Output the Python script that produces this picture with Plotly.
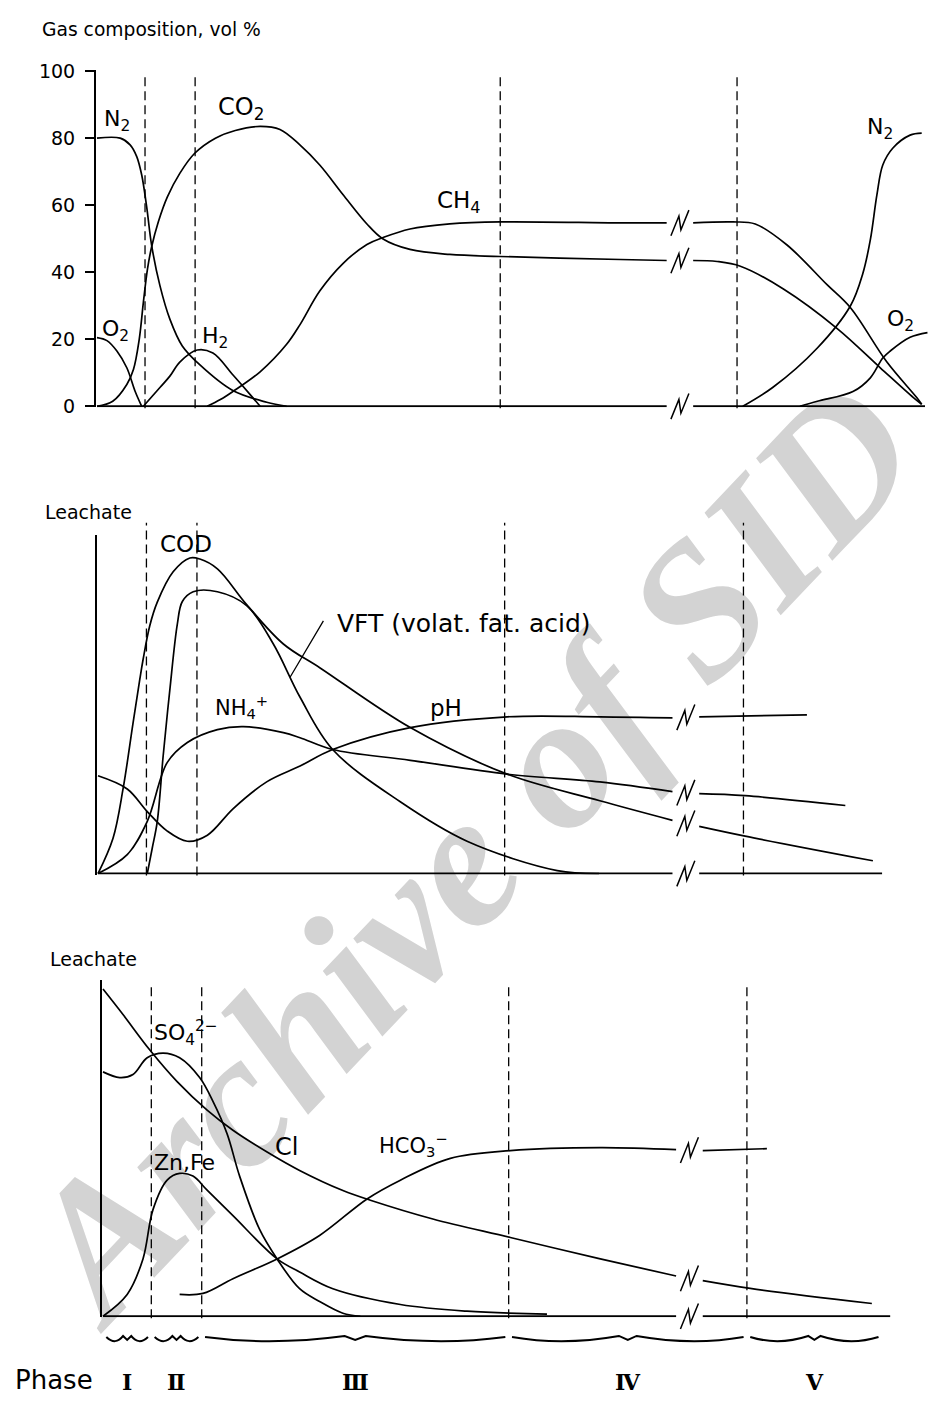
import numpy as np
import plotly.graph_objects as go

W, H = 928, 1412

# Relative time (arbitrary units) shared by the three panels
phase_edges = [0.0, 5.8, 11.85, 48.7, 77.3, 93.5]
phase_names = ["Ⅰ", "Ⅱ", "Ⅲ", "Ⅳ", "Ⅴ"]
t_break = 70.4      # time axis is broken here (//)
gap = 1.6           # half width of the break gap

# ---------------- Gas composition, vol % ----------------
n2_early_t = [0, 2.8, 4.0, 4.8, 5.4, 6.0, 6.6, 7.6, 8.8, 10.3, 12.4, 16.4, 20.5, 22.9]
n2_early = [80, 80, 78, 74.5, 69, 59.5, 48, 36, 26, 18, 12.4, 4.7, 1.2, 0]

o2_early_t = [0, 1.2, 2.4, 3.6, 4.6, 5.4]
o2_early = [20.5, 19.6, 16.5, 11.5, 4.5, 0]

co2_t = [0, 1.9, 3.6, 4.4, 5.1, 5.6, 6.1, 6.6, 7.4, 8.5, 10.0, 11.8, 14.3, 16.7, 19.7, 22.1,
         24.5, 26.9, 29.7, 32.6, 34.5, 37.8, 42.6, 48.7, 63.2, 68.8, 72.0, 74.9, 77.7, 82.9,
         89.4, 94.6, 98.6, 99.6]
co2 = [0, 1.5, 6.5, 11, 20, 31, 41, 47.6, 55, 62.5, 69.5, 75.5, 80, 82.3, 83.5, 82.6,
       78, 72, 63.2, 54.4, 50, 46.8, 45.3, 44.7, 43.8, 43.5, 43.5, 43.2, 41.8, 35,
       23.2, 11.5, 2.6, 0.6]

ch4_t = [13.3, 14.9, 16.4, 19.7, 22.9, 24.5, 26.9, 29.7, 32.6, 34.5, 37.8, 42.6, 48.7, 63.2,
         68.8, 72.0, 76.8, 79.5, 83.3, 88.2, 91.0, 95.4, 99.0, 99.6]
ch4 = [0, 2, 4.4, 10.3, 18.5, 24.3, 34.4, 42.6, 48.3, 50.3, 52.9, 54.4, 55, 54.7,
       54.7, 54.7, 55, 54.4, 48.2, 36.2, 29.4, 13.2, 2.6, 0.6]

h2_t = [5.6, 7.6, 8.8, 10.0, 12.1, 14.0, 16.4, 18.5, 19.7]
h2 = [0, 5.6, 9, 13.2, 16.8, 15.9, 9.4, 3.5, 0]

n2_late_t = [78.0, 81.6, 87.0, 91.0, 92.5, 93.4, 94.2, 94.9, 96.1, 98.2, 99.6]
n2_late = [0, 5.6, 17.4, 30, 39.7, 49.7, 63.2, 72, 77, 80.9, 81.5]

o2_late_t = [84.9, 87.0, 91.3, 93.4, 94.9, 95.8, 98.2, 100.3]
o2_late = [0, 1.5, 4.4, 8.5, 14.4, 16.5, 20.6, 22]

gas_ticks = [0, 20, 40, 60, 80, 100]

# ---------------- Leachate: organic parameters ----------------
cod_t = [0, 1.8, 3.0, 4.2, 5.0, 5.4, 6.2, 7.1, 9.0, 11.0, 12.2, 14.3, 17.8, 22.2, 26.6, 37.4,
         49.0, 60.1, 68.8, 72.0, 77.5, 92.8]
cod = [0, 10.5, 25.1, 44.7, 57.5, 63.5, 73.5, 80.5, 89.5, 93.6, 93.3, 90.4, 79.8, 68.1, 61, 43.3,
       29.5, 21.6, 15.8, 14.0, 11.1, 3.8]

vft_t = [5.9, 6.5, 7.1, 7.8, 8.6, 9.5, 10.1, 11.4, 14.3, 17.8, 21.0, 24.2, 28.1, 36.2, 44.2,
         55.0, 60.0]
vft = [0, 7.6, 15.5, 34.8, 54.4, 74, 80.7, 83.6, 83.6, 79.5, 68.1, 52.3, 36.8, 21.3, 9.6,
       0.9, 0]

ph_t = [0, 3.5, 5.9, 8.3, 10.7, 13.1, 16.2, 20.2, 24.2, 28.1, 37.4, 49.0, 60.1, 68.8, 72.0, 84.9]
ph = [29, 25.1, 18.4, 12.6, 9.6, 11.4, 19.3, 27.2, 31.9, 36.8, 43.3, 46.5, 46.5, 46.2, 46.5, 47.1]

nh4_t = [0, 3.5, 5.9, 8.3, 10.7, 14.3, 17.4, 22.2, 24.2, 28.1, 37.4, 49.0, 60.1, 68.8, 72.0,
         77.5, 89.5]
nh4 = [0, 5.6, 15.5, 33, 38.9, 42.7, 43.6, 41.8, 40.3, 36.8, 33.6, 29.5, 27.2, 24.3, 23.7,
       23.1, 20.2]

# ---------------- Leachate: inorganic parameters ----------------
cl_t = [0, 2.4, 5.6, 8.9, 12.5, 15.6, 19.7, 23.6, 28.8, 32.1, 39.6, 48.9, 59.7, 68.8, 72.0,
        77.7, 92.3]
cl = [97.6, 90, 79.5, 70, 61.5, 55.5, 49, 43.5, 37.5, 34.6, 29, 23.5, 17.1, 12, 10.6,
      8.3, 3.8]

so4_t = [0, 2.0, 3.6, 5.3, 7.2, 9.2, 11.6, 13.2, 14.9, 16.4, 18.8, 20.9, 23.6, 26.0, 28.8, 30.9]
so4 = [72.9, 71.2, 72.1, 77.1, 78.5, 77.1, 71.2, 64.1, 54.4, 41.8, 25.9, 17.1, 8.2, 4.4, 0.9, 0]

znfe_t = [0, 2.9, 4.8, 6.0, 7.7, 9.2, 10.8, 12.5, 15.6, 20.9, 23.6, 27.6, 35.7, 43.7, 53.3]
znfe = [0, 6.5, 17.1, 31.8, 40.6, 42.6, 41.8, 37.6, 30, 17.1, 13.2, 8.2, 3.5, 1.5, 0.6]

hco3_t = [9.2, 12.0, 15.6, 20.9, 26.0, 31.7, 35.7, 41.7, 48.9, 59.7, 68.8, 72.0, 79.7]
hco3 = [6.5, 6.8, 11.2, 17.1, 24.1, 35, 40.6, 47.1, 49.4, 50.3, 49.7, 49.4, 50]

# ---------------- panel geometry (pixels) ----------------
GEOM = {
    "gas":   dict(ax="",  x0=97.0,  sx=8.28, y0=402.0,  sy=3.40, tmax=100.36, t_end=100.0),
    "org":   dict(ax="2", x0=98.0,  sx=8.35, y0=876.0,  sy=3.42, tmax=94.2,   t_end=93.9),
    "inorg": dict(ax="3", x0=103.0, sx=8.33, y0=1325.0, sy=3.40, tmax=94.6,   t_end=94.5),
}
T_LO, V_LO, V_HI = -0.12, -0.3, 100.3
FONT = "DejaVu Sans"


def px(key, t, v):
    g = GEOM[key]
    return g["x0"] + t * g["sx"], g["y0"] - v * g["sy"]


def to_paper(x, y):
    return x / W, 1 - y / H


def curve(key, t, v, width=1.7):
    tt, vv = [], []
    for i in range(len(t)):
        if i and t[i - 1] < t_break < t[i]:
            tt.append(None)
            vv.append(None)
        tt.append(t[i])
        vv.append(v[i])
    a = GEOM[key]["ax"]
    return go.Scatter(x=tt, y=vv, xaxis="x" + a, yaxis="y" + a, mode="lines",
                      line=dict(color="black", width=width, shape="spline", smoothing=1.0),
                      hoverinfo="skip", showlegend=False)


def break_mark(key, t, v):
    cx, cy = px(key, t, v)
    offs = [(-9, 13), (-1, -7), (1, 7), (9, -13)]
    pts = [to_paper(cx + dx, cy + dy) for dx, dy in offs]
    path = "M " + " L ".join(f"{x:.5f},{y:.5f}" for x, y in pts)
    return dict(type="path", xref="paper", yref="paper", path=path,
                line=dict(color="black", width=1.5))


series = {
    "gas": [(n2_early_t, n2_early), (o2_early_t, o2_early), (co2_t, co2), (ch4_t, ch4),
            (h2_t, h2), (n2_late_t, n2_late), (o2_late_t, o2_late)],
    "org": [(cod_t, cod), (vft_t, vft), (ph_t, ph), (nh4_t, nh4)],
    "inorg": [(cl_t, cl), (so4_t, so4), (znfe_t, znfe), (hco3_t, hco3)],
}

fig = go.Figure()
shapes = []
layout_axes = {}

for key, g in GEOM.items():
    a = g["ax"]
    xl, yb = px(key, T_LO, V_LO)
    xr, yt = px(key, g["tmax"], V_HI)
    layout_axes["xaxis" + a] = dict(domain=[xl / W, min(1.0, xr / W)], range=[T_LO, g["tmax"]],
                                    anchor="y" + a, visible=False)
    yax = dict(domain=[1 - yb / H, 1 - yt / H], range=[V_LO, V_HI], anchor="x" + a,
               showline=True, linecolor="black", linewidth=2, showgrid=False, zeroline=False,
               fixedrange=True)
    if key == "gas":
        yax.update(tickvals=gas_ticks, ticks="outside", ticklen=9, tickwidth=2,
                   tickcolor="black", tickfont=dict(family=FONT, size=19, color="black"),
                   ticklabelstandoff=6)
    else:
        yax.update(showticklabels=False, ticks="")
    layout_axes["yaxis" + a] = yax

    # curves
    for t, v in series[key]:
        fig.add_trace(curve(key, t, v))
        if t[0] < t_break < t[-1]:
            shapes.append(break_mark(key, t_break, float(np.interp(t_break, t, v))))

    # time axis (baseline) with its break
    base_t = [0, t_break - gap, t_break + gap, g["t_end"]]
    fig.add_trace(curve(key, base_t, [0, 0, 0, 0], width=2))
    shapes.append(break_mark(key, t_break, 0))

# dashed phase boundaries
DASH_SPAN = {"gas": (64, 404), "org": (520, 878), "inorg": (989, 1327)}
for key in GEOM:
    top, bot = DASH_SPAN[key]
    for e in phase_edges[1:5]:
        x, _ = px(key, e, 0)
        shapes.append(dict(type="line", xref="paper", yref="paper",
                           x0=x / W, x1=x / W, y0=1 - bot / H, y1=1 - top / H,
                           line=dict(color="black", width=1.3, dash="9px,5px")))

# curly braces under the time axis, one per phase
BRACE_Y = 1346
for i in range(5):
    a_x, _ = px("inorg", phase_edges[i] + 0.4, 0)
    b_x, _ = px("inorg", phase_edges[i + 1] - 0.4, 0)
    L = b_x - a_x
    m = (a_x + b_x) / 2
    d = 3 + 0.025 * L
    h = BRACE_Y
    P = lambda x, y: "{:.5f},{:.5f}".format(*to_paper(x, y))
    path = (f"M {P(a_x, h)} Q {P(a_x + 0.22 * L, h + 9)} {P(m - d, h - 1)} "
            f"L {P(m, h + 3)} L {P(m + d, h - 1)} Q {P(b_x - 0.22 * L, h + 9)} {P(b_x, h)}")
    shapes.append(dict(type="path", xref="paper", yref="paper", path=path,
                       line=dict(color="black", width=2)))

# watermark, drawn underneath the curves
cx, cy, ang = 456, 836, np.deg2rad(47)
p1 = to_paper(cx - 200 * np.cos(ang), cy + 200 * np.sin(ang))
p2 = to_paper(cx + 200 * np.cos(ang), cy - 200 * np.sin(ang))
shapes.append(dict(type="line", xref="paper", yref="paper", layer="below",
                   x0=p1[0], y0=p1[1], x1=p2[0], y1=p2[1],
                   line=dict(color="rgba(0,0,0,0)", width=0),
                   label=dict(text="Archive of SID", textposition="middle", yanchor="middle",
                              font=dict(family="Liberation Serif", size=192, color="#d3d3d3",
                                        style="italic", weight="bold"))))

annotations = []


def label(key, text, t, v, size=22, xanchor="left"):
    a = GEOM[key]["ax"]
    annotations.append(dict(xref="x" + a, yref="y" + a, x=t, y=v, text=text, showarrow=False,
                            xanchor=xanchor, yanchor="middle",
                            font=dict(family=FONT, size=size, color="black")))


def page_text(text, x, y, size, family=FONT):
    xp, yp = to_paper(x, y)
    annotations.append(dict(xref="paper", yref="paper", x=xp, y=yp, text=text, showarrow=False,
                            xanchor="left", yanchor="middle",
                            font=dict(family=family, size=size, color="black")))


page_text("Gas composition, vol %", 40, 20, 18.7)
page_text("Leachate", 43, 509, 19)
page_text("Leachate", 48, 963, 19)

label("gas", "N<sub>2</sub>", 0.6, 85.3)
label("gas", "CO<sub>2</sub>", 14.4, 88.7, size=24)
label("gas", "O<sub>2</sub>", 0.4, 22.7)
label("gas", "H<sub>2</sub>", 12.4, 20.5)
label("gas", "CH<sub>4</sub>", 40.8, 61.0, size=23)
label("gas", "N<sub>2</sub>", 92.8, 83.0)
label("gas", "O<sub>2</sub>", 95.2, 25.5)

label("org", "COD", 7.2, 97.8, size=23)
label("org", "VFT (volat. fat. acid)", 28.4, 74.3, size=25)
label("org", "NH<sub>4</sub><sup>+</sup>", 13.8, 49.4, size=21)
label("org", "pH", 39.5, 49.1, size=23)

# leader line from the VFT label to its curve
t_lead = 23.0
annotations.append(dict(xref="x2", yref="y2", axref="x2", ayref="y2",
                        x=t_lead, y=float(np.interp(t_lead, vft_t, vft)), ax=27.1, ay=75.4,
                        text="", showarrow=True, arrowhead=0, arrowwidth=1.3,
                        arrowcolor="black", standoff=0, startstandoff=0))

label("inorg", "SO<sub>4</sub><sup>2−</sup>", 5.9, 84.5, size=22)
label("inorg", "Cl", 20.4, 50.5, size=24)
label("inorg", "Zn,Fe", 5.9, 46.0, size=22)
label("inorg", "HCO<sub>3</sub><sup>−</sup>", 32.9, 51.0, size=21)

# phase labels
page_text("Phase", 13, 1390, 26)
for i, name in enumerate(phase_names):
    annotations.append(dict(xref="x3", yref="paper",
                            x=(phase_edges[i] + phase_edges[i + 1]) / 2, y=1 - 1392 / H,
                            text=name, showarrow=False, xanchor="center", yanchor="middle",
                            font=dict(family="DejaVu Serif, Noto Sans CJK JP", size=22,
                                      color="black", weight="bold")))

fig.update_layout(
    width=W, height=H, margin=dict(l=0, r=0, t=0, b=0),
    paper_bgcolor="white", plot_bgcolor="rgba(0,0,0,0)",
    showlegend=False, shapes=shapes, annotations=annotations,
    font=dict(family=FONT, color="black"),
    **layout_axes,
)

fig.write_html("out.html")
